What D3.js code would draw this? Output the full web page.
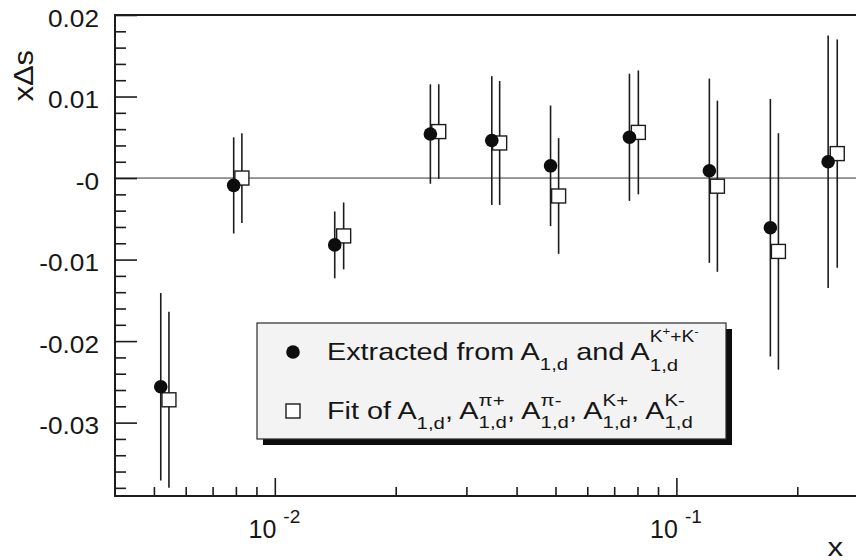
<!DOCTYPE html>
<html>
<head>
<meta charset="utf-8">
<script src="https://cdn.jsdelivr.net/npm/d3@7/dist/d3.min.js"></script>
<style>
  html, body { margin: 0; padding: 0; background: #fff; }
  svg { display: block; }
  text { font-family: "Liberation Sans", Arial, Helvetica, sans-serif; fill: #161616; white-space: pre; }
</style>
</head>
<body>
<svg id="chart" width="856" height="560"></svg>
<script>
// x-Delta-s from two strange-quark extractions, per x bin
const xExtracted   = [0.0052, 0.0079, 0.0141, 0.0244, 0.0347, 0.0486, 0.0764, 0.1208, 0.1714, 0.2387];
const dsExtracted  = [-0.0256, -0.0009, -0.0082, 0.0054, 0.0046, 0.0015, 0.0050, 0.0009, -0.0061, 0.0020];
const errExtracted = [0.0115, 0.0059, 0.0041, 0.0061, 0.0079, 0.0074, 0.0078, 0.0113, 0.0158, 0.0155];

const xFit   = [0.00545, 0.00828, 0.01484, 0.0256, 0.0363, 0.0509, 0.0804, 0.1265, 0.1795, 0.2515];
const dsFit  = [-0.0272, 0.0000, -0.0071, 0.0057, 0.0043, -0.0022, 0.0056, -0.0010, -0.0090, 0.0030];
const errFit = [0.0108, 0.0055, 0.0041, 0.0058, 0.0076, 0.0071, 0.0076, 0.0105, 0.0145, 0.0140];

// axis ranges and ticks
const xDomain = [0.004, 0.3];
const yDomain = [-0.039, 0.02];
const yMajorTicks  = [-0.03, -0.02, -0.01, 0, 0.01, 0.02];
const yTickLabels  = ["-0.03", "-0.02", "-0.01", "-0", "0.01", "0.02"];
const xMajorTicks  = [0.01, 0.1];
const xTickBases   = ["10", "10"];
const xTickExps    = ["-2", "-1"];
const xMinorTicks  = [0.005, 0.006, 0.007, 0.008, 0.009, 0.02, 0.03, 0.04, 0.05, 0.06, 0.07, 0.08, 0.09, 0.2];
const yMinorTicks  = d3.range(-38, 20, 2).map(v => v / 1000).filter(v => !yMajorTicks.some(m => Math.abs(m - v) < 1e-9));

// legend labels as rich-text runs (sub/superscripts)
const sub = t => ({ t, fs: 17, dy: 10 });
const legendExtracted = [
  { t: "Extracted from A", fs: 24, dy: 0 }, sub("1,d"),
  { t: " and A", fs: 24, dy: 0 },
  { sup: [{ t: "K", fs: 16, dy: -18 }, { t: "+", fs: 11, dy: -25 }, { t: "+K", fs: 16, dy: -18 }, { t: "-", fs: 11, dy: -25 }],
    sub: [{ t: "1,d", fs: 17, dy: 11 }] }
];
const supsFit = ["\u03c0+", "\u03c0-", "K+", "K-"];
const legendFit = [{ t: "Fit of A", fs: 24, dy: 0 }, sub("1,d")];
supsFit.forEach((s, i) => {
  legendFit.push({ t: ", A", fs: 24, dy: 0 });
  legendFit.push({ sup: [{ t: s, fs: 17, dy: -13 }], sub: [{ t: "1,d" + (i < supsFit.length - 1 ? "" : ""), fs: 17, dy: 9 }] });
});

const svg = d3.select("#chart");
const frame = { left: 115, top: 15, right: 868, bottom: 496 };

const x = d3.scaleLog().domain(xDomain).range([frame.left, frame.right]);
const y = d3.scaleLinear().domain(yDomain).range([frame.bottom, frame.top]);

const ink = "#1c1c1c";

// horizontal reference line at zero
svg.append("line")
  .attr("x1", frame.left).attr("x2", frame.right)
  .attr("y1", y(0)).attr("y2", y(0))
  .attr("stroke", "#333").attr("stroke-width", 1);

// y axis: ticks point into the plot
const yMinorAxis = d3.axisLeft(y).tickValues(yMinorTicks).tickFormat("").tickSize(-11).tickSizeOuter(0);
const yMajorAxis = d3.axisLeft(y).tickValues(yMajorTicks).tickFormat((d, i) => yTickLabels[i]).tickSize(-22).tickSizeOuter(0).tickPadding(0);
const gyMinor = svg.append("g").attr("transform", `translate(${frame.left},0)`).call(yMinorAxis);
const gyMajor = svg.append("g").attr("transform", `translate(${frame.left},0)`).call(yMajorAxis);
[gyMinor, gyMajor].forEach(g => {
  g.select(".domain").remove();
  g.selectAll(".tick line").attr("stroke", ink).attr("stroke-width", 1.6);
});
gyMajor.selectAll(".tick text")
  .attr("x", 0).attr("y", 11).attr("dy", null)
  .attr("text-anchor", "end")
  .attr("font-size", 23)
  .attr("font-family", null)
  .attr("fill", "#161616")
  .attr("transform", "translate(-16,0) scale(1.14,1)");

// x axis: log scale, ticks point up
const xMinorAxis = d3.axisBottom(x).tickValues(xMinorTicks).tickFormat("").tickSize(-9).tickSizeOuter(0);
const xMajorAxis = d3.axisBottom(x).tickValues(xMajorTicks).tickFormat("").tickSize(-18).tickSizeOuter(0);
const gxMinor = svg.append("g").attr("transform", `translate(0,${frame.bottom})`).call(xMinorAxis);
const gxMajor = svg.append("g").attr("transform", `translate(0,${frame.bottom})`).call(xMajorAxis);
[gxMinor, gxMajor].forEach(g => {
  g.select(".domain").remove();
  g.selectAll(".tick line").attr("stroke", ink).attr("stroke-width", 1.6);
  g.selectAll(".tick text").remove();
});
gxMajor.selectAll(".tick").each(function (d, i) {
  const t = d3.select(this);
  t.append("text").attr("x", 1).attr("y", 42).attr("text-anchor", "end")
    .attr("font-size", 25).attr("font-family", null).attr("fill", "#161616").text(xTickBases[i]);
  t.append("text").attr("x", 8).attr("y", 27).attr("text-anchor", "start")
    .attr("font-size", 19).attr("font-family", null).attr("fill", "#161616").text(xTickExps[i]);
});

// frame lines (left, bottom, top)
svg.append("path")
  .attr("d", `M${frame.right},${frame.top}H${frame.left}V${frame.bottom}H${frame.right}`)
  .attr("fill", "none").attr("stroke", ink).attr("stroke-width", 2);

// axis titles
svg.append("g").attr("transform", "translate(843,556) scale(1.2,1)")
  .append("text").attr("text-anchor", "end").attr("font-size", 26).text("x");
svg.append("g").attr("transform", "translate(33,50) rotate(-90) scale(1.1,1)")
  .append("text").attr("text-anchor", "end").attr("font-size", 28).text("x\u0394s");

// error bars
function errorBars(xs, vs, es) {
  svg.append("g").selectAll("line").data(xs).join("line")
    .attr("x1", d => x(d)).attr("x2", d => x(d))
    .attr("y1", (d, i) => y(vs[i] + es[i]))
    .attr("y2", (d, i) => y(vs[i] - es[i]))
    .attr("stroke", ink).attr("stroke-width", 1.6);
}
errorBars(xExtracted, dsExtracted, errExtracted);
errorBars(xFit, dsFit, errFit);

// markers
const sq = 14;
svg.append("g").selectAll("rect").data(xFit).join("rect")
  .attr("x", d => x(d) - sq / 2)
  .attr("y", (d, i) => y(dsFit[i]) - sq / 2)
  .attr("width", sq).attr("height", sq)
  .attr("fill", "#fff").attr("stroke", ink).attr("stroke-width", 1.4);
svg.append("g").selectAll("circle").data(xExtracted).join("circle")
  .attr("cx", d => x(d))
  .attr("cy", (d, i) => y(dsExtracted[i]))
  .attr("r", 6.8)
  .attr("fill", "#0d0d0d");

// legend with drop shadow
const lg = { x: 257, y: 323, w: 469, h: 116, shadow: 6 };
svg.append("rect").attr("x", lg.x + lg.shadow).attr("y", lg.y + lg.shadow)
  .attr("width", lg.w).attr("height", lg.h).attr("fill", "#0d0d0d");
svg.append("rect").attr("x", lg.x).attr("y", lg.y)
  .attr("width", lg.w).attr("height", lg.h)
  .attr("fill", "#f3f3f3").attr("stroke", "#2a2a2a").attr("stroke-width", 1.2);

svg.append("circle").attr("cx", 293).attr("cy", 352).attr("r", 6.8).attr("fill", "#0d0d0d");
svg.append("rect").attr("x", 293 - sq / 2).attr("y", 411 - sq / 2).attr("width", sq).attr("height", sq)
  .attr("fill", "#fff").attr("stroke", ink).attr("stroke-width", 1.4);

// lays out text runs left to right; stacked sup/sub runs share a start
function richText(parent, x0, y0, runs, sx) {
  const g = parent.append("g").attr("transform", `translate(${x0},${y0}) scale(${sx},1)`);
  const put = (r, cx) => {
    const t = g.append("text").attr("x", cx).attr("y", r.dy || 0).attr("font-size", r.fs).text(r.t);
    return t.node().getComputedTextLength();
  };
  let cx = 0;
  runs.forEach(r => {
    if (r.sup || r.sub) {
      let a = cx, b = cx;
      (r.sup || []).forEach(p => { a += put(p, a); });
      (r.sub || []).forEach(p => { b += put(p, b); });
      cx = Math.max(a, b);
    } else {
      cx += put(r, cx);
    }
  });
  return g;
}
richText(svg, 327, 360, legendExtracted, 1.2);
richText(svg, 327, 419, legendFit, 1.2);
</script>
</body>
</html>
